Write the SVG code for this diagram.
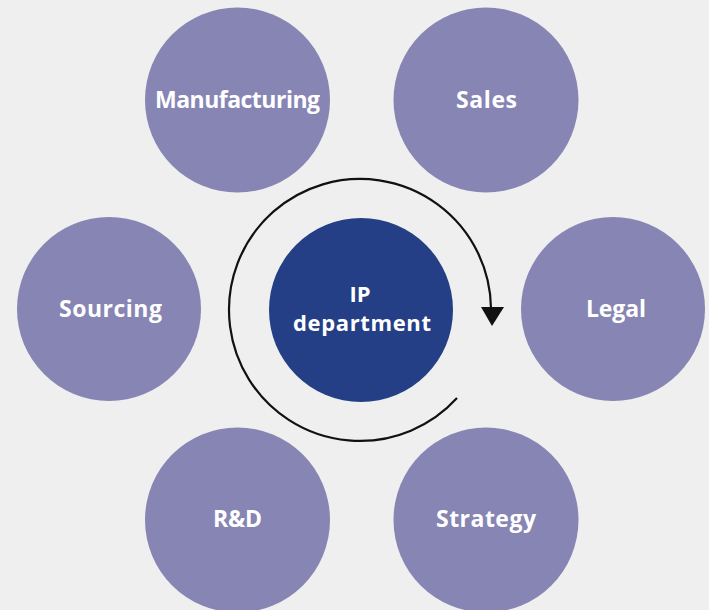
<svg xmlns="http://www.w3.org/2000/svg" width="709" height="610" viewBox="0 0 709 610">
  <defs>
    <style>
      .node { fill: #8785b4; }
      .hub { fill: #243f85; }
      .label { font-family: "Open Sans", Lato, "Liberation Sans", sans-serif; font-weight: 700; font-size: 23px; fill: #ffffff; text-anchor: middle; }
      .hub-label { font-size: 22px; }
      .cycle { fill: none; stroke: #111111; stroke-width: 2.2; }
      .head { fill: #111111; }
    </style>
  </defs>
  <rect x="0" y="0" width="709" height="610" fill="#efefef"/>

  <g id="manufacturing">
    <circle class="node" cx="237.5" cy="100" r="92.5"/>
    <text class="label" x="237.5" y="108" textLength="165">Manufacturing</text>
  </g>
  <g id="sales">
    <circle class="node" cx="486" cy="100" r="92.5"/>
    <text class="label" x="486.5" y="108" textLength="61">Sales</text>
  </g>
  <g id="sourcing">
    <circle class="node" cx="109" cy="309" r="92"/>
    <text class="label" x="110.5" y="317" textLength="103">Sourcing</text>
  </g>
  <g id="legal">
    <circle class="node" cx="613" cy="309" r="92"/>
    <text class="label" x="616" y="317" textLength="60">Legal</text>
  </g>
  <g id="rd">
    <circle class="node" cx="237.5" cy="520" r="92.5"/>
    <text class="label" x="237.5" y="527" textLength="49">R&amp;D</text>
  </g>
  <g id="strategy">
    <circle class="node" cx="486" cy="520" r="92.5"/>
    <text class="label" x="486" y="527" textLength="100">Strategy</text>
  </g>
  <g id="ip-department">
    <circle class="hub" cx="361" cy="310" r="92"/>
    <text class="label hub-label" x="360" y="302">IP</text>
    <text class="label hub-label" x="362" y="331" textLength="138">department</text>
  </g>

  <g id="connectors">
    <path class="cycle" d="M 457 398 A 131 131 0 1 1 491 308"/>
    <polygon class="head" points="481,307 504,307 492,326"/>
  </g>
</svg>
